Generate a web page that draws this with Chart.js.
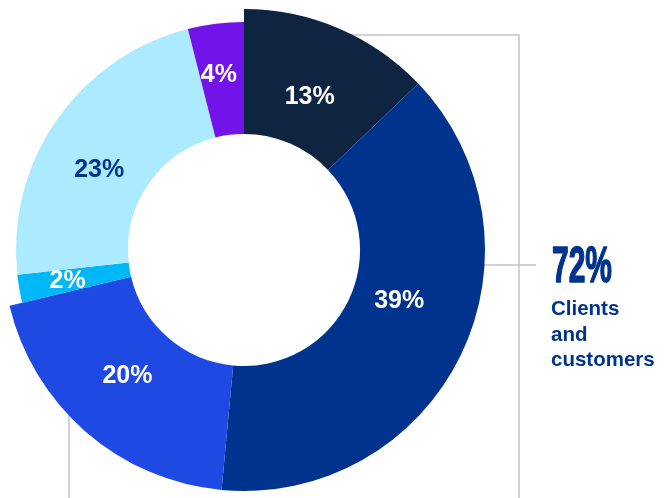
<!DOCTYPE html>
<html>
<head>
<meta charset="utf-8">
<script src="https://cdn.jsdelivr.net/npm/chart.js@4.4.1/dist/chart.umd.min.js"></script>
<style>
  html, body { margin: 0; padding: 0; background: #fff; }
  #wrap { width: 669px; height: 498px; position: relative; }
</style>
</head>
<body>
<div id="wrap"><canvas id="donut"></canvas></div>
<script>
// share of respondents per group, clockwise from 12 o'clock
const groups = ["Group A", "Group B", "Group C", "Group D", "Group E", "Group F"];
const shares = [13, 39, 20, 2, 23, 4];
const sliceColors = ["#0e2440", "#00338d", "#1e49e2", "#00b8f5", "#aceaff", "#7213ea"];
const labelColors = ["#fff", "#fff", "#fff", "#fff", "#00338d", "#fff"];

// the first three groups together form the highlighted block
const highlightCount = 3;
const highlightTotal = 72;
const highlightText = ["Clients", "and", "customers"];

// small nudges so the labels sit where they read best
const labelAngleShift = [0, -8, 2, 0, -5.5, -1];
const labelRadius = [167, 163, 171, 179, 166, 178];

const BLUE = "#00338d";
const GREY = "#c4c4c4";

const labelFont = "bold 25px 'Liberation Sans', Arial, sans-serif";

// highlighted slices stick out further than the rest
const growSlices = {
    id: "growSlices",
    afterDatasetsUpdate(chart) {
        chart.getDatasetMeta(0).data.forEach((arc, i) => {
            if (i < highlightCount) arc.outerRadius = arc.outerRadius + 13;
        });
    }
};

// bracket lines behind the ring
const bracket = {
    id: "bracket",
    beforeDatasetsDraw(chart) {
        const ctx = chart.ctx;
        const arc = chart.getDatasetMeta(0).data[0];
        const cx = arc.x;
        ctx.save();
        ctx.strokeStyle = GREY;
        ctx.lineWidth = 1.5;
        ctx.beginPath();
        ctx.moveTo(cx, 35);
        ctx.lineTo(519, 35);
        ctx.lineTo(519, 498);
        ctx.moveTo(460, 265);
        ctx.lineTo(536, 265);
        ctx.moveTo(69, 380);
        ctx.lineTo(69, 498);
        ctx.stroke();
        ctx.restore();
    }
};

// percentage labels on the slices plus the side note
const sliceLabels = {
    id: "sliceLabels",
    afterDatasetsDraw(chart) {
        const ctx = chart.ctx;
        const arcs = chart.getDatasetMeta(0).data;
        ctx.save();
        ctx.font = labelFont;
        ctx.textAlign = "center";
        ctx.textBaseline = "middle";
        arcs.forEach((arc, i) => {
            const mid = (arc.startAngle + arc.endAngle) / 2 + labelAngleShift[i] * Math.PI / 180;
            const r = labelRadius[i];
            ctx.fillStyle = labelColors[i];
            ctx.fillText(shares[i] + "%", arc.x + Math.cos(mid) * r, arc.y + Math.sin(mid) * r + 1);
        });

        // big condensed total, squeezed and thickened
        ctx.fillStyle = BLUE;
        ctx.strokeStyle = BLUE;
        ctx.textAlign = "left";
        ctx.textBaseline = "alphabetic";
        ctx.font = "bold 50px 'Liberation Sans Narrow', 'Liberation Sans', Arial, sans-serif";
        const total = highlightTotal + "%";
        const w = ctx.measureText(total).width;
        ctx.save();
        ctx.translate(552, 282);
        ctx.scale(60 / w, 1);
        ctx.lineWidth = 1.5;
        ctx.lineJoin = "round";
        ctx.strokeText(total, 0, 0);
        ctx.fillText(total, 0, 0);
        ctx.restore();

        ctx.font = "bold 20.5px 'Liberation Sans', Arial, sans-serif";
        highlightText.forEach((line, i) => {
            ctx.fillText(line, 551, 315 + i * 25.5);
        });
        ctx.restore();
    }
};

new Chart(document.getElementById("donut"), {
    type: "doughnut",
    data: {
        labels: groups,
        datasets: [{
            data: shares,
            backgroundColor: sliceColors,
            borderWidth: 0
        }]
    },
    options: {
        responsive: true,
        maintainAspectRatio: false,
        animation: false,
        events: [],
        cutout: "50.9%",
        layout: { padding: { left: 16, top: 22, right: 197, bottom: 20 } },
        plugins: {
            legend: { display: false },
            tooltip: { enabled: false }
        }
    },
    plugins: [growSlices, bracket, sliceLabels]
});
</script>
</body>
</html>
